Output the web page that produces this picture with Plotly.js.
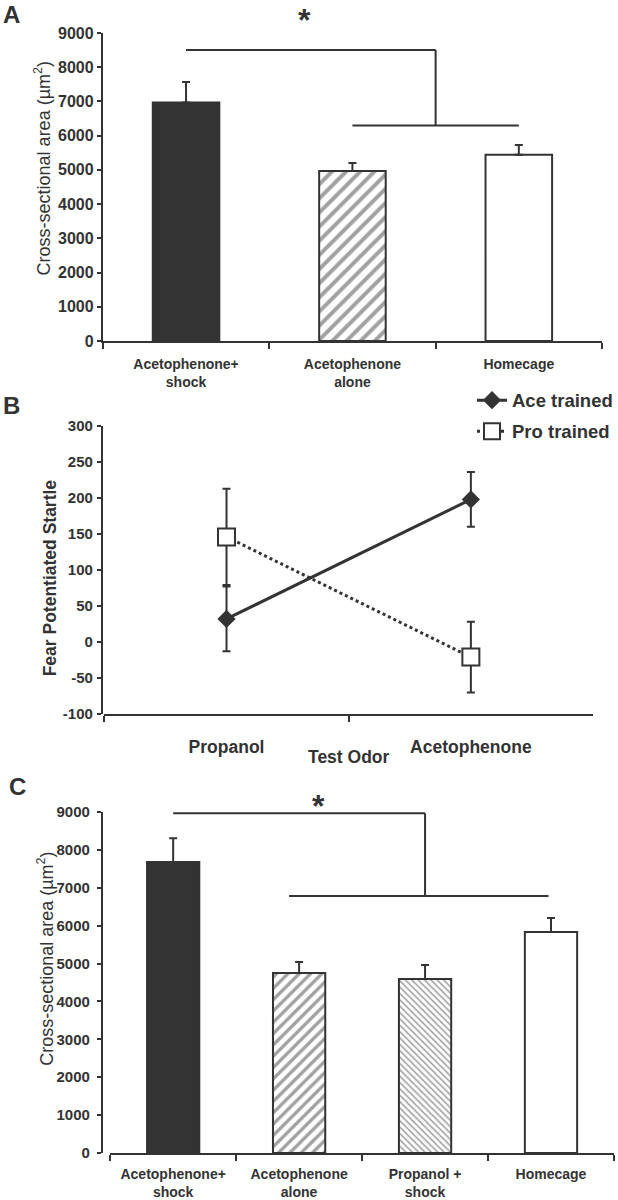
<!DOCTYPE html>
<html>
<head>
<meta charset="utf-8">
<script src="https://cdn.plot.ly/plotly-3.0.1.min.js"></script>
<style>html,body{margin:0;padding:0;background:#fff;}#chart{width:618px;height:1200px;}</style>
</head>
<body>
<div id="chart"></div>
<script>
// Panel A data
const catsA = ['Acetophenone+<br>shock', 'Acetophenone<br>alone', 'Homecage'];
const meansA = [6970, 4970, 5440];
const errA = [600, 230, 290];

// Panel B data
const catsB = ['Propanol', 'Acetophenone'];
const aceMeans = [32, 198];
const aceErr = [45, 38];
const proMeans = [146, -21];
const proErr = [67, 49];
const tickValsB = [-100, -50, 0, 50, 100, 150, 200, 250, 300];
const tickTextB = ['-100', '-50', '0', '50', '100', '150', '200', '250', '300'];

// Panel C data
const catsC = ['Acetophenone+<br>shock', 'Acetophenone<br>alone', 'Propanol +<br>shock', 'Homecage'];
const meansC = [7680, 4750, 4590, 5830];
const errC = [630, 290, 370, 370];

const FONT = 'Liberation Sans, Arial, sans-serif';
const INK = '#333333';

const barA = {
  type: 'bar', x: catsA, y: meansA, xaxis: 'x', yaxis: 'y', width: 0.4, showlegend: false,
  marker: {
    color: [INK, 'white', 'white'],
    line: {color: INK, width: 2},
    pattern: {shape: ['', '/', ''], size: 10, solidity: 0.4, fgcolor: '#222', bgcolor: 'white', fillmode: 'overlay'}
  },
  error_y: {type: 'data', symmetric: false, array: errA, arrayminus: [0, 0, 0], color: INK, thickness: 2, width: 4}
};

const ace = {
  type: 'scatter', mode: 'lines+markers', name: 'Ace trained', legendgroup: 'ace', x: catsB, y: aceMeans, xaxis: 'x2', yaxis: 'y2',
  line: {color: INK, width: 3},
  marker: {symbol: 'diamond', size: 14, color: INK},
  error_y: {type: 'data', array: aceErr, color: INK, thickness: 2, width: 4}
};
const pro = {
  type: 'scatter', mode: 'lines+markers', name: 'Pro trained', legendgroup: 'pro', x: catsB, y: proMeans, xaxis: 'x2', yaxis: 'y2',
  line: {color: INK, width: 3, dash: 'dot'},
  marker: {symbol: 'square', size: 17, color: 'white', line: {color: INK, width: 2}},
  error_y: {type: 'data', array: proErr, color: INK, thickness: 2, width: 4}
};

const barC = {
  type: 'bar', x: catsC, y: meansC, xaxis: 'x3', yaxis: 'y3', width: 0.415, showlegend: false,
  marker: {
    color: [INK, 'white', 'white', 'white'],
    line: {color: INK, width: 2},
    pattern: {shape: ['', '/', '\\', ''], size: [8, 8, 4.5, 8], solidity: [0.3, 0.42, 0.35, 0.3], fgcolor: '#222', bgcolor: 'white', fillmode: 'overlay'}
  },
  error_y: {type: 'data', symmetric: false, array: errC, arrayminus: [0, 0, 0, 0], color: INK, thickness: 2, width: 4}
};

function yax(domain, range, dtick, size, standoff) {
  return {
    domain: domain, range: range, dtick: dtick, showline: true, linecolor: INK, linewidth: 2,
    ticks: 'outside', ticklen: 4, tickwidth: 2, tickcolor: INK, showgrid: false, zeroline: false,
    ticklabelstandoff: standoff,
    tickfont: {family: FONT, size: size, color: INK, weight: 'bold'}, fixedrange: true
  };
}
function xax(domain, anchor, size, standoff) {
  return {
    domain: domain, anchor: anchor, type: 'category', tickson: 'boundaries', ticks: 'outside', ticklen: 6,
    tickwidth: 2, tickcolor: INK, showline: true, linecolor: INK, linewidth: 2, showgrid: false, zeroline: false,
    ticklabelstandoff: standoff,
    tickfont: {family: FONT, size: size, color: INK, weight: 'bold'}, fixedrange: true
  };
}

const lineStyle = {color: INK, width: 2};
function ann(text, x, y, size, extra) {
  return Object.assign({text: text, xref: 'paper', yref: 'paper', x: x, y: y, xanchor: 'center', yanchor: 'middle',
    showarrow: false, font: {family: FONT, size: size, weight: 'bold', color: INK}}, extra || {});
}
const layout = {
  width: 618, height: 1200, margin: {l: 0, r: 0, t: 0, b: 0},
  paper_bgcolor: 'white', plot_bgcolor: 'white',
  font: {family: FONT, color: INK},
  showlegend: true,
  legend: {x: 0.765, y: 0.682, xanchor: 'left', yanchor: 'top', bgcolor: 'rgba(0,0,0,0)', tracegroupgap: 4,
           font: {family: FONT, size: 18.5, color: INK, weight: 'bold'}},
  xaxis: xax([0.1667, 0.9757], 'y', 14, 9),
  yaxis: yax([0.71583, 0.9725], [0, 9000], 1000, 16, 0),
  xaxis2: Object.assign(xax([0.1691, 0.9612], 'y2', 17.5, 16), {range: [-0.5, 1.5]}),
  yaxis2: Object.assign(yax([0.405, 0.645], [-100, 300], 50, 15, 1), {tickmode: 'array', tickvals: tickValsB, ticktext: tickTextB}),
  xaxis3: xax([0.1786, 0.9951], 'y3', 14, 7),
  yaxis3: yax([0.03917, 0.32333], [0, 9000], 1000, 15, 4),
  shapes: [
    {type: 'line', xref: 'x', yref: 'y', x0: 0, x1: 1.5, y0: 8500, y1: 8500, line: lineStyle},
    {type: 'line', xref: 'x', yref: 'y', x0: 1.5, x1: 1.5, y0: 8500, y1: 6300, line: lineStyle},
    {type: 'line', xref: 'x', yref: 'y', x0: 1, x1: 2, y0: 6300, y1: 6300, line: lineStyle},
    {type: 'line', xref: 'x3', yref: 'y3', x0: 0, x1: 2, y0: 8970, y1: 8970, line: lineStyle},
    {type: 'line', xref: 'x3', yref: 'y3', x0: 2, x1: 2, y0: 8970, y1: 6780, line: lineStyle},
    {type: 'line', xref: 'x3', yref: 'y3', x0: 0.92, x1: 2.98, y0: 6780, y1: 6780, line: lineStyle}
  ],
  annotations: [
    ann('A', 0.0194, 0.9875, 24),
    ann('B', 0.0194, 0.6617, 24),
    ann('C', 0.029, 0.345, 24),
    ann('*', 0.71, 1, 32, {xref: 'x', yanchor: 'top'}),
    ann('*', 1.15, 0.3283, 32, {xref: 'x3'}),
    ann('Cross-sectional area (µm<sup>2</sup>)', 0.0696, 0.8596, 18, {textangle: -90, font: {family: FONT, size: 18, color: INK}}),
    ann('Fear Potentiated Startle', 0.0825, 0.5188, 17.5, {textangle: -90}),
    ann('Cross-sectional area (µm<sup>2</sup>)', 0.0736, 0.2013, 18, {textangle: -90, font: {family: FONT, size: 18, color: INK}}),
    ann('Test Odor', 0.5, 0.3692, 17.5, {xref: 'x2'})
  ]
};

Plotly.newPlot('chart', [barA, ace, pro, barC], layout, {displayModeBar: false, staticPlot: true});
</script>
</body>
</html>
